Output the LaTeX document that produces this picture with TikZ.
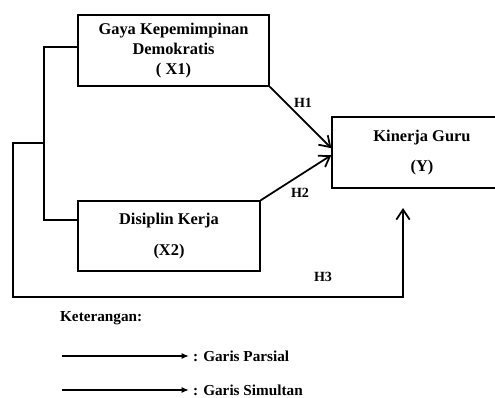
\documentclass[tikz,border=0pt]{standalone}
\usepackage{fontspec}
\setmainfont{Liberation Serif}
\usetikzlibrary{arrows.meta}

\tikzset{
  varbox/.style={draw, line width=1.2pt, align=center, inner sep=0pt,
    font=\bfseries\fontsize{14}{17}\selectfont},
  link/.style={line width=1.5pt},
  hyp/.style={link, -{Straight Barb[length=3mm, width=4mm, line width=1.5pt]}},
  hlabel/.style={font=\bfseries\fontsize{12}{14}\selectfont},
  legend/.style={font=\bfseries\fontsize{13}{15}\selectfont},
  legarrow/.style={line width=1.5pt, -{Latex[length=2.2mm, width=1.8mm]}}
}

\begin{document}
\begin{tikzpicture}[x=0.03cm, y=-0.03cm]
\useasboundingbox (0,0) rectangle (495,398);

% variables
\node[varbox, minimum width=5.73cm, minimum height=2.13cm] (x1) at (173.5,50.5)
  {Gaya Kepemimpinan\\Demokratis\\( X1)};
\node[varbox, minimum width=5.46cm, minimum height=2.1cm] (x2) at (169,236)
  {Disiplin Kerja\\[9pt](X2)};
\node[varbox, minimum width=5.4cm, minimum height=2.13cm] (y) at (422,152.5)
  {Kinerja Guru\\[8pt](Y)};

% partial paths
\draw[hyp] (x1.south east) -- ([yshift=0.13cm]y.west);
\draw[hyp] (x2.north east) -- ([yshift=-0.08cm]y.west);
\node[hlabel] (h1) at (303,103) {H1};
\node[hlabel] (h2) at (300,193) {H2};

% simultaneous path
\coordinate (fork) at (44,143);
\coordinate (h3corner) at (13,297);
\coordinate (h3tip) at (403,208);
\draw[link] ([yshift=0.1cm]x1.west) -| (fork) |- ([yshift=0.48cm]x2.west);
\draw[hyp] (fork) -| (h3corner) -| (h3tip);
\node[hlabel] (h3) at (323,277) {H3};

% legend
\node[legend, anchor=west] (ket) at (56,318) {Keterangan:};
\coordinate (lp) at (62,356);
\node[legend, anchor=west] (parsial) at (189,356) {: Garis Parsial};
\draw[legarrow] (lp) -- (parsial);
\coordinate (ls) at (62,390);
\node[legend, anchor=west] (simultan) at (189,390) {: Garis Simultan};
\draw[legarrow] (ls) -- (simultan);
\end{tikzpicture}
\end{document}
